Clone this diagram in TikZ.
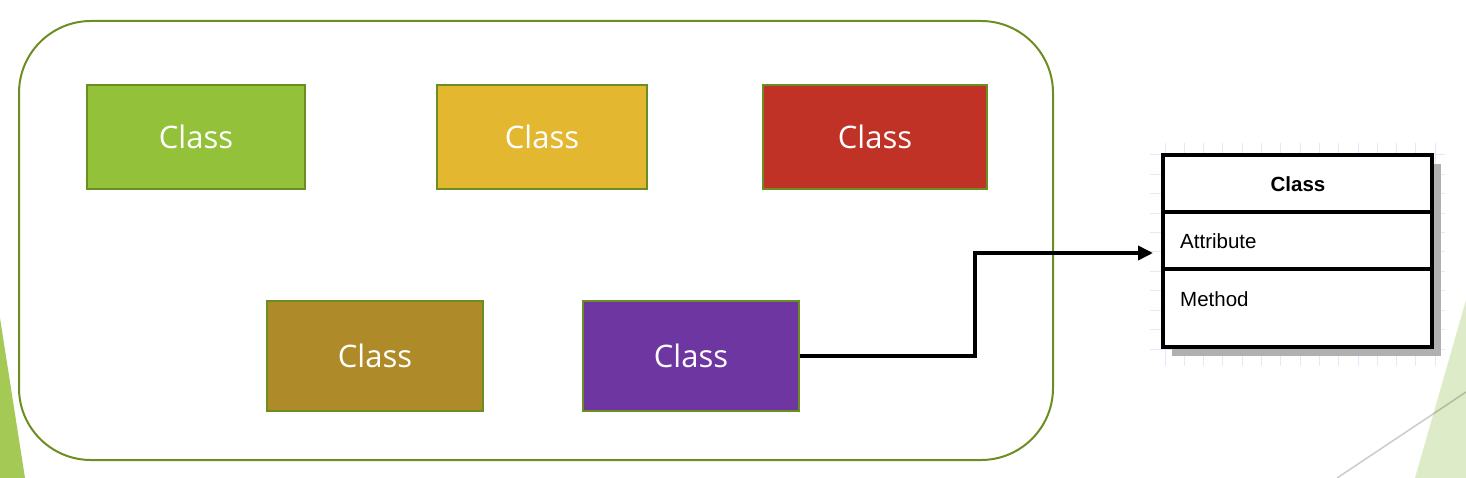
\documentclass[tikz,border=0pt]{standalone}
\usepackage{fontspec}
\newfontfamily\classfont{Open Sans}
\newfontfamily\umlfont{Liberation Sans}
\usetikzlibrary{arrows.meta}
\definecolor{frameg}{RGB}{107,142,35}
\definecolor{cgreen}{RGB}{148,193,58}
\definecolor{cyellow}{RGB}{228,183,49}
\definecolor{cred}{RGB}{192,49,38}
\definecolor{colive}{RGB}{174,138,40}
\definecolor{cpurple}{RGB}{110,54,160}
\definecolor{decog}{RGB}{164,201,84}
\definecolor{decolight}{RGB}{222,235,200}
\definecolor{gridc}{RGB}{230,230,252}
\definecolor{shadowc}{RGB}{176,176,176}
\tikzset{
  classbox/.style={draw=frameg, line width=2pt, inner sep=0pt, text=white,
    font=\classfont\fontsize{31}{37}\selectfont},
  umlpart/.style={draw=black, line width=3.5pt, fill=white, minimum width=269pt, inner sep=0pt},
  umltext/.style={font=\umlfont\fontsize{20.5}{24}\selectfont, inner sep=0pt},
  conn/.style={draw=black, line width=3.5pt, -{Triangle[length=15pt,width=14pt]}}
}
\begin{document}
\begin{tikzpicture}[x=1pt,y=-1pt]
\useasboundingbox (0,0) rectangle (1466,478);
% slide decorations
\fill[decog] (0,318) -- (25,478) -- (0,478) -- cycle;
\fill[decolight] (1466,300) -- (1415,478) -- (1466,478) -- cycle;
\draw[black, opacity=0.2, line width=1.5pt] (1337,478) -- (1466,392);
% container
\node[draw=frameg, line width=2pt, rounded corners=72pt, minimum width=1034pt, minimum height=439pt, inner sep=0pt] (container) at (536,240.5) {};
% class boxes
\node[classbox, fill=cgreen, minimum width=218pt, minimum height=104pt] (c1) at (196,137) {Class};
\node[classbox, fill=cyellow, minimum width=210pt, minimum height=104pt] (c2) at (542,137) {Class};
\node[classbox, fill=cred, minimum width=224pt, minimum height=104pt] (c3) at (875,137) {Class};
\node[classbox, fill=colive, minimum width=216pt, minimum height=110pt] (c4) at (375,356) {Class};
\node[classbox, fill=cpurple, minimum width=216pt, minimum height=110pt] (purple) at (691,356) {Class};
% grid background of UML class
\begin{scope}
\clip (1150,143) rectangle (1445,366);
\foreach \i in {0,...,15} {
  \draw[gridc, line width=1pt] (1165+19.3*\i,143) -- (1165+19.3*\i,366);
}
\foreach \j in {0,...,11} {
  \draw[gridc, line width=1pt] (1150,155+19.4*\j) -- (1445,155+19.4*\j);
}
\end{scope}
% shadow
\fill[shadowc] (1172,164) rectangle (1441,356);
% UML class
\node[umlpart, minimum height=57pt] (head) at (1297.5,183.5) {};
\node[umlpart, minimum height=57pt] (attr) at (1297.5,240.5) {};
\node[umlpart, minimum height=78pt] (meth) at (1297.5,308) {};
\node[umltext, font=\umlfont\bfseries\fontsize{20.5}{24}\selectfont] (headt) at (1298,184) {Class};
\node[umltext, anchor=base west] (attrt) at (1180,249) {Attribute};
\node[umltext, anchor=base west] (metht) at (1180,306) {Method};
% connector
\coordinate (bend) at (975,253);
\coordinate (tip) at (1153,253);
\draw[conn] (purple.east) -| (bend) -- (tip);
\end{tikzpicture}
\end{document}
